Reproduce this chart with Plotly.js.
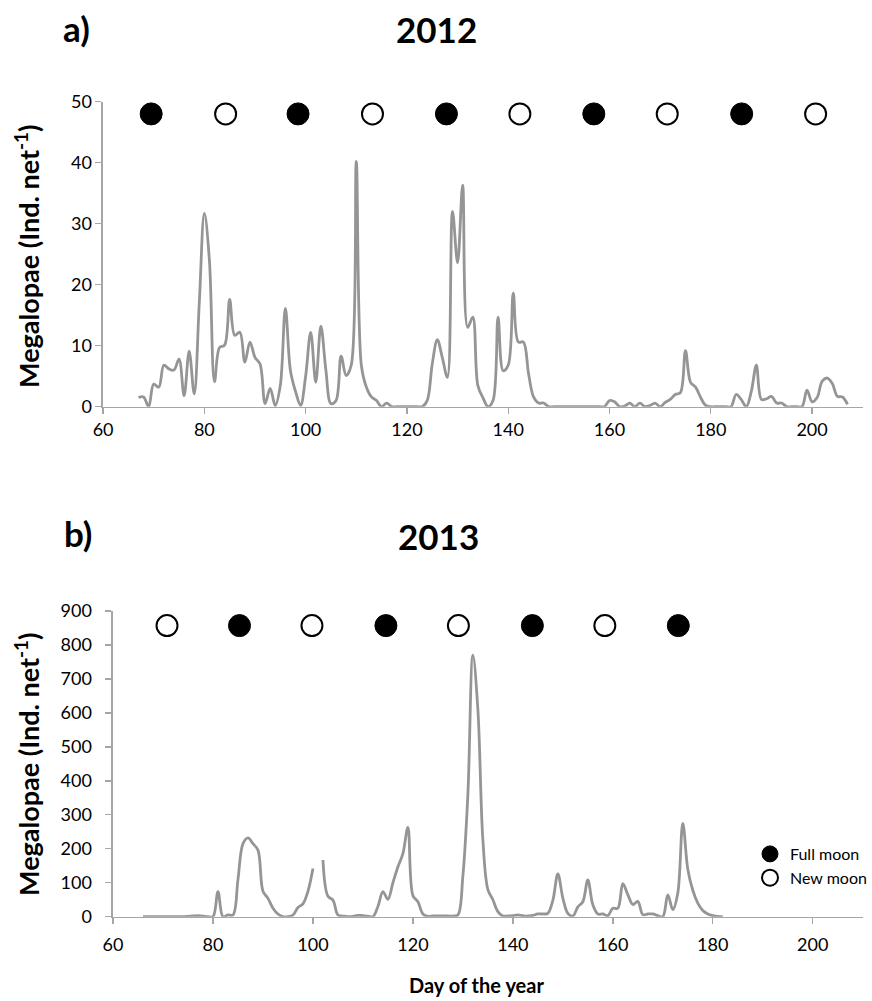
<!DOCTYPE html>
<html>
<head>
<meta charset="utf-8">
<script src="https://cdn.plot.ly/plotly-3.0.1.min.js"></script>
<style>html,body{margin:0;padding:0;background:#fff;}#chart{width:872px;height:1001px;}</style>
</head>
<body>
<div id="chart"></div>
<script>
// ---------- Panel a) 2012 ----------
const days2012 = [67,68,69,70,71,72,73,74,75,76,77,78,79,80,81,82,83,84,85,86,87,88,89,90,91,92,93,94,95,96,97,98,99,100,
  101,102,103,104,105,106,107,108,109,110,111,112,113,114,115,116,117,118,119,120,121,122,123,124,125,126,127,128,129,130,
  131,132,133,134,135,136,137,138,139,140,141,142,143,144,145,146,147,148,149,150,151,152,153,154,155,156,157,158,159,160,
  161,162,163,164,165,166,167,168,169,170,171,172,173,174,175,176,177,178,179,180,181,182,183,184,185,186,187,188,189,190,
  191,192,193,194,195,196,197,198,199,200,201,202,203,204,205,206,207];
const megalopae2012 = [1.5,1.6,0,3.7,3.2,6.8,6.2,6.0,7.8,1.8,9.1,2.1,17,31.7,24,4.1,9.7,10.1,17.6,11.7,12.2,7.3,10.6,8.1,7.0,0.5,3.0,0.2,3.5,16.1,5.9,2.5,0.2,5,
  12.2,4.0,13.2,6,0.5,1.0,8.3,5.1,6.8,40.2,6.8,3.2,1.6,1.0,0,0.6,0,0,0,0,0,0,0,1,7,11,8,4.8,32,23.6,
  36.3,13,14.7,3.5,1.5,0,1,14.7,5.9,6.8,18.6,10.6,10.6,5.5,1.6,0.6,0.6,0,0,0,0,0,0,0,0,0,0,0,0,1.0,
  0.8,0,0.1,0.6,0,0.6,0,0.2,0.6,0,0.7,1.2,2.0,2.3,9.2,4.0,3.2,1.5,0.2,0,0,0,0,0,2.0,1.2,0,2.5,6.8,1.2,
  1.3,1.7,0.6,0.6,0,0,0,0,2.7,0.8,1.5,4.2,4.7,3.8,1.7,1.6,0.4];
const fullMoon2012 = [69.5, 98.5, 127.8, 156.9, 186.1];
const newMoon2012  = [84.2, 113.2, 142.3, 171.4, 200.7];
const moonLevel2012 = 48;

// ---------- Panel b) 2013 ----------
const days2013 = [66,67,68,69,70,71,72,73,74,75,76,77,78,79,80,81,82,83,84,85,86,87,88,89,90,91,92,93,94,95,96,97,98,99,100,
  101,102,103,104,105,106,107,108,109,110,111,112,113,114,115,116,117,118,119,120,121,122,123,124,125,126,127,128,129,130,
  131,132,133,134,135,136,137,138,139,140,141,142,143,144,145,146,147,148,149,150,151,152,153,154,155,156,157,158,159,160,
  161,162,163,164,165,166,167,168,169,170,171,172,173,174,175,176,177,178,179,180,181,182];
const megalopae2013 = [0,0,0,0,0,0,0,0,0,1,2,3,2,0,0,74,0,5,5,110,215,232,215,196,75,54,25,8,0,0,5,27,38,75,142,
  null,167,60,49,5,2,0,1,4,3,2,0,30,74,51,100,147,186,263,62,44,8,1,2,2,2,2,2,5,120,
  360,770,610,226,80,50,15,2,2,3,5,3,2,4,8,8,10,48,126,55,10,2,29,44,108,35,8,8,3,25,
  25,97,65,36,45,6,8,8,3,0,64,21,70,275,140,78,40,18,8,3,1,0];
const fullMoon2013 = [85.3, 114.6, 143.9, 173.1];
const newMoon2013  = [70.8, 99.8, 129.1, 158.4];
const moonLevel2013 = 857;

const xTicks = [60,80,100,120,140,160,180,200];

// ---------- styles ----------
const lineGray = '#959595';
const axisGray = '#a6a6a6';
const tickFont = {family: 'Lato, sans-serif', size: 18, color: '#000'};

function repeat(v, n){ return Array.from({length:n}, () => v); }

const traces = [
  {x: days2012, y: megalopae2012, xaxis:'x', yaxis:'y', type:'scatter', mode:'lines',
   line:{color: lineGray, width: 2.8, shape:'spline', smoothing:1}, showlegend:false, hoverinfo:'skip'},
  {x: fullMoon2012, y: repeat(moonLevel2012, fullMoon2012.length), xaxis:'x', yaxis:'y', type:'scatter', mode:'markers',
   marker:{symbol:'circle', size:22, color:'#000', line:{color:'#000', width:1}}, showlegend:false, cliponaxis:false},
  {x: newMoon2012, y: repeat(moonLevel2012, newMoon2012.length), xaxis:'x', yaxis:'y', type:'scatter', mode:'markers',
   marker:{symbol:'circle', size:21, color:'#fff', line:{color:'#000', width:2}}, showlegend:false, cliponaxis:false},

  {x: days2013, y: megalopae2013, xaxis:'x2', yaxis:'y2', type:'scatter', mode:'lines', connectgaps:false,
   line:{color: lineGray, width: 2.8, shape:'spline', smoothing:1}, showlegend:false, hoverinfo:'skip'},
  {x: fullMoon2013, y: repeat(moonLevel2013, fullMoon2013.length), xaxis:'x2', yaxis:'y2', type:'scatter', mode:'markers',
   name:'Full moon', marker:{symbol:'circle', size:22, color:'#000', line:{color:'#000', width:1}}, showlegend:true, cliponaxis:false},
  {x: newMoon2013, y: repeat(moonLevel2013, newMoon2013.length), xaxis:'x2', yaxis:'y2', type:'scatter', mode:'markers',
   name:'New moon', marker:{symbol:'circle', size:21, color:'#fff', line:{color:'#000', width:2}}, showlegend:true, cliponaxis:false}
];

const W = 872, H = 1001;
function px(x){ return x / W; }
function py(y){ return 1 - y / H; }

const axisCommon = {
  showline:true, linecolor: axisGray, linewidth: 1.6, ticks:'outside', ticklen: 6, tickwidth: 1.4, tickcolor: axisGray,
  showgrid:false, zeroline:false, tickfont: tickFont, fixedrange:true
};

const yTitle = 'Megalopae (Ind. net<sup>-1</sup>)';
const titleFont = {family:'Lato, sans-serif', size: 35, color:'#000'};

const layout = {
  width: W, height: H,
  margin: {l:0, r:0, t:0, b:0},
  paper_bgcolor: '#fff', plot_bgcolor: '#fff',
  showlegend: true,
  legend: {x: px(752), y: py(837), xanchor:'left', yanchor:'top', bgcolor:'rgba(0,0,0,0)',
           font:{family:'Lato, sans-serif', size:16, color:'#000'}, tracegroupgap:0, itemwidth:30},
  xaxis: Object.assign({}, axisCommon, {domain:[px(103.3), px(864.7)], range:[60,210], tickvals: xTicks, anchor:'y'}),
  yaxis: Object.assign({}, axisCommon, {domain:[py(406.7), py(101.7)], range:[0,50], dtick:10, tick0:0, anchor:'x'}),
  xaxis2: Object.assign({}, axisCommon, {domain:[px(113.3), px(864.7)], range:[60,210], tickvals: xTicks, anchor:'y2', ticklabelstandoff:5}),
  yaxis2: Object.assign({}, axisCommon, {domain:[py(916.7), py(611)], range:[0,900], dtick:100, tick0:0, anchor:'x2', ticklabelstandoff:10}),
  annotations: [
    {text:'<b>a)</b>', x: px(77), y: py(28), xref:'paper', yref:'paper', showarrow:false, font: titleFont, xanchor:'center', yanchor:'middle'},
    {text:'<b>2012</b>', x: px(437.5), y: py(29), xref:'paper', yref:'paper', showarrow:false, font: titleFont, xanchor:'center', yanchor:'middle'},
    {text:'<b>b)</b>', x: px(78), y: py(533), xref:'paper', yref:'paper', showarrow:false, font: titleFont, xanchor:'center', yanchor:'middle'},
    {text:'<b>2013</b>', x: px(439.5), y: py(536), xref:'paper', yref:'paper', showarrow:false, font: titleFont, xanchor:'center', yanchor:'middle'},
    {text:'<b>' + yTitle + '</b>', x: px(27), y: py(256), xref:'paper', yref:'paper', showarrow:false, textangle:-90,
     font:{family:'Lato, sans-serif', size:27, color:'#000'}, xanchor:'center', yanchor:'middle'},
    {text:'<b>' + yTitle + '</b>', x: px(27), y: py(764), xref:'paper', yref:'paper', showarrow:false, textangle:-90,
     font:{family:'Lato, sans-serif', size:27, color:'#000'}, xanchor:'center', yanchor:'middle'},
    {text:'<b>Day of the year</b>', x: px(478), y: py(985), xref:'paper', yref:'paper', showarrow:false,
     font:{family:'Lato, sans-serif', size:20, color:'#000'}, xanchor:'center', yanchor:'middle'}
  ]
};

Plotly.newPlot('chart', traces, layout, {displayModeBar:false, staticPlot:true});
</script>
</body>
</html>
